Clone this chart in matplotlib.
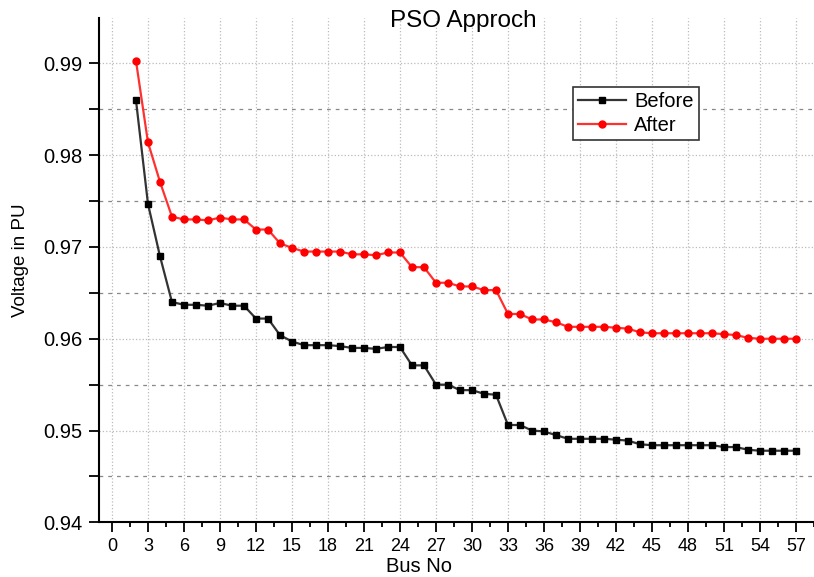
import numpy as np
import matplotlib

matplotlib.use("Agg")
import matplotlib.pyplot as plt
from matplotlib.ticker import MultipleLocator

plt.rcParams['font.family'] = ['Liberation Sans', 'DejaVu Sans']

# Numéros de bus
bus = list(range(2, 58))

# Tension avant optimisation (pu)
before = [0.9860, 0.9747, 0.9690, 0.9640, 0.9637, 0.9637, 0.9636, 0.9639, 0.9636, 0.9636,
          0.9622, 0.9622, 0.9604, 0.9597, 0.9593, 0.9593, 0.9593, 0.9592, 0.9590, 0.9590,
          0.9589, 0.9591, 0.9591, 0.9571, 0.9571, 0.9550, 0.9550, 0.9544, 0.9544, 0.9540,
          0.9539, 0.9506, 0.9506, 0.9500, 0.9499, 0.9495, 0.9491, 0.9491, 0.9491, 0.9491,
          0.9490, 0.9489, 0.9485, 0.9484, 0.9484, 0.9484, 0.9484, 0.9484, 0.9484, 0.9482,
          0.9482, 0.9479, 0.9478, 0.9478, 0.9478, 0.9478]

# Tension après optimisation PSO (pu)
after = [0.9903, 0.9814, 0.9771, 0.9733, 0.9730, 0.9730, 0.9729, 0.9732, 0.9730, 0.9730,
         0.9719, 0.9719, 0.9704, 0.9699, 0.9695, 0.9695, 0.9695, 0.9695, 0.9692, 0.9692,
         0.9691, 0.9694, 0.9694, 0.9678, 0.9678, 0.9661, 0.9661, 0.9657, 0.9657, 0.9653,
         0.9653, 0.9627, 0.9627, 0.9621, 0.9621, 0.9618, 0.9613, 0.9613, 0.9613, 0.9613,
         0.9612, 0.9611, 0.9607, 0.9606, 0.9606, 0.9606, 0.9606, 0.9606, 0.9606, 0.9605,
         0.9604, 0.9601, 0.9600, 0.9600, 0.9600, 0.9600]

W, H = 814, 577
fig = plt.figure(figsize=(W / 100, H / 100), dpi=100)
ax = fig.add_axes([99 / W, (H - 522.3) / H, (W - 99) / W, (522.3 - 18) / H])

ax.plot(bus, before, color='#333333', linewidth=1.6, marker='s', markersize=5,
        markerfacecolor='black', markeredgecolor='black', label='Before')
ax.plot(bus, after, color='#ff3030', linewidth=1.6, marker='o', markersize=5,
        markerfacecolor='red', markeredgecolor='red', label='After')

ax.set_xlim(-1.08, 58.5)
ax.set_ylim(0.94, 0.99495)
ax.xaxis.set_major_locator(MultipleLocator(3))
ax.xaxis.set_minor_locator(MultipleLocator(1.5))
ax.yaxis.set_minor_locator(MultipleLocator(0.005))
ax.set_yticks(np.arange(0.94, 0.9949, 0.01))
ax.set_yticklabels(['0.94', '0.95', '0.96', '0.97', '0.98', '0.99'])

ax.tick_params(axis='x', which='major', direction='out', length=7, width=1.3, labelsize=13, pad=4)
ax.tick_params(axis='y', which='major', direction='out', length=7, width=1.3, labelsize=14.5, pad=5)
ax.tick_params(axis='x', which='minor', direction='out', length=3.5, width=1.3)
ax.tick_params(axis='y', which='minor', direction='out', length=7, width=1.3)

# Grille
ax.grid(True, which='major', axis='both', linestyle=':', color='#bbbbbb', linewidth=0.9)
ax.grid(True, which='minor', axis='y', linestyle=(0, (3, 4)), color='#888888', linewidth=0.9)

for s in ['top', 'right']:
    ax.spines[s].set_visible(False)
for s in ['left', 'bottom']:
    ax.spines[s].set_linewidth(1.5)

fig.text(463 / W, 1 - 27.3 / H, 'PSO Approch', fontsize=17.5, ha='center', va='baseline')
fig.text(419 / W, 1 - 566 / H, 'Bus No', fontsize=14.5, ha='center', va='center')
fig.text(21 / W, 1 - 260 / H, 'Voltage in PU', fontsize=13.5, ha='center', va='center',
         rotation=90)

leg = ax.legend(loc='upper left', bbox_to_anchor=(573 / W, 1 - 87 / H),
                bbox_transform=fig.transFigure, fontsize=14.5,
                frameon=True, fancybox=False, edgecolor='#333333', framealpha=1,
                handlelength=2.4, borderpad=0.25, labelspacing=0.25, handletextpad=0.4,
                borderaxespad=0)
leg.get_frame().set_linewidth(1.2)

plt.savefig('out.png', dpi=100)
